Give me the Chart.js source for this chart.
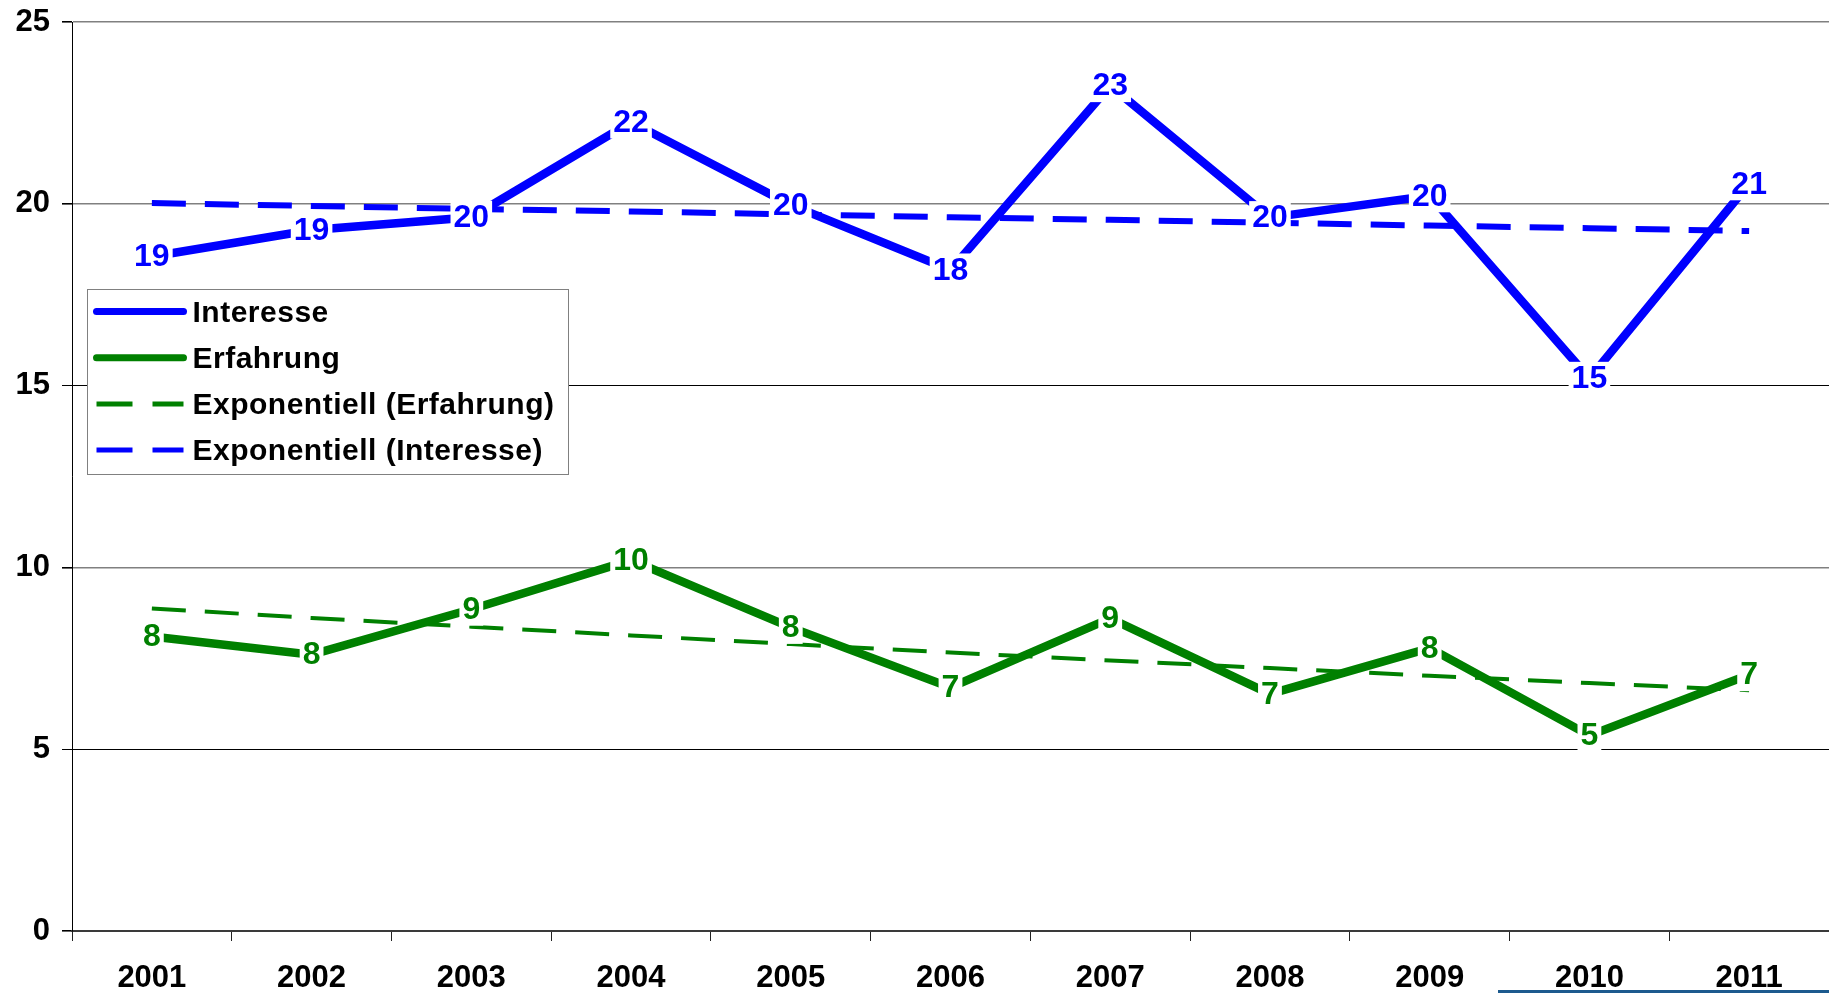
<!DOCTYPE html>
<html>
<head>
<meta charset="utf-8">
<script src="https://cdn.jsdelivr.net/npm/chart.js@4.4.1/dist/chart.umd.min.js"></script>
<style>
  html, body { margin: 0; padding: 0; background: #ffffff; }
  #wrap { position: relative; width: 1829px; height: 993px; overflow: hidden; }
  #deco { position: absolute; left: 1498px; top: 990px; width: 331px; height: 3px; background: #1c5a8e; }
</style>
</head>
<body>
<div id="wrap">
  <canvas id="c" width="1829" height="993"></canvas>
  <div id="deco"></div>
</div>
<script>
// ---- data ----
const years = ['2001','2002','2003','2004','2005','2006','2007','2008','2009','2010','2011'];
const interesse = [18.55, 19.28, 19.63, 22.25, 19.97, 18.18, 23.25, 19.62, 20.22, 15.2, 20.55];
const erfahrung = [8.1, 7.6, 8.85, 10.2, 8.35, 6.7, 8.6, 6.52, 7.78, 5.38, 7.05];
const trendErfahrung = [8.87, 8.61, 8.37, 8.13, 7.89, 7.66, 7.44, 7.23, 7.02, 6.82, 6.62];
const trendInteresse = [20.02, 19.94, 19.86, 19.79, 19.71, 19.63, 19.56, 19.48, 19.40, 19.33, 19.25];
const yTicks = [0, 5, 10, 15, 20, 25];

const FONT = "'Liberation Sans', Arial, sans-serif";
const BLUE = '#0000ff';
const GREEN = '#008000';

const dataLabels = {
  id: 'dataLabels',
  afterDatasetsDraw(chart) {
    const ctx = chart.ctx;
    ctx.save();
    ctx.font = 'bold 32px ' + FONT;
    ctx.textAlign = 'center';
    ctx.textBaseline = 'middle';
    chart.data.datasets.forEach((ds, i) => {
      if (!ds.showValues) return;
      const meta = chart.getDatasetMeta(i);
      meta.data.forEach((pt, j) => {
        const txt = String(Math.round(ds.data[j]));
        const w = ctx.measureText(txt).width + 6;
        const h = 33;
        ctx.fillStyle = '#ffffff';
        ctx.fillRect(pt.x - w / 2, pt.y - h / 2, w, h);
        ctx.fillStyle = ds.borderColor;
        ctx.fillText(txt, pt.x, pt.y + 1);
      });
    });
    ctx.restore();
  }
};

const boxLegend = {
  id: 'boxLegend',
  afterDraw(chart) {
    const ctx = chart.ctx;
    const a = chart.chartArea;
    const x0 = a.left + 15.5, y0 = a.top + 267.5, w = 481, h = 185;
    ctx.save();
    ctx.fillStyle = '#ffffff';
    ctx.fillRect(x0, y0, w, h);
    ctx.strokeStyle = '#808080';
    ctx.lineWidth = 1;
    ctx.strokeRect(x0, y0, w, h);
    ctx.font = 'bold 30px ' + FONT;
    if ('letterSpacing' in ctx) ctx.letterSpacing = '0.5px';
    ctx.textBaseline = 'middle';
    ctx.textAlign = 'left';
    chart.data.datasets.forEach((ds, i) => {
      const cy = y0 + 22 + i * 46.2;
      ctx.strokeStyle = ds.borderColor;
      ctx.lineWidth = ds.borderDash ? 5 : 7;
      ctx.lineCap = ds.borderDash ? 'butt' : 'round';
      ctx.setLineDash(ds.borderDash ? [36, 20] : []);
      ctx.beginPath();
      ctx.moveTo(x0 + 9, cy);
      ctx.lineTo(x0 + 96, cy);
      ctx.stroke();
      ctx.setLineDash([]);
      ctx.fillStyle = '#000000';
      ctx.fillText(ds.label, x0 + 105, cy + 2);
    });
    ctx.restore();
  }
};

new Chart(document.getElementById('c'), {
  type: 'line',
  data: {
    labels: years,
    datasets: [
      { label: 'Interesse', data: interesse, borderColor: BLUE, borderWidth: 8.5, showValues: true, order: 1 },
      { label: 'Erfahrung', data: erfahrung, borderColor: GREEN, borderWidth: 8.5, showValues: true, order: 2 },
      { label: 'Exponentiell (Erfahrung)', data: trendErfahrung, borderColor: GREEN, borderWidth: 4, borderDash: [34, 19], order: 3 },
      { label: 'Exponentiell (Interesse)', data: trendInteresse, borderColor: BLUE, borderWidth: 6, borderDash: [34, 19], order: 4 }
    ]
  },
  options: {
    responsive: false,
    animation: false,
    devicePixelRatio: 1,
    layout: { padding: { top: 22, right: 0, bottom: 0, left: 0 } },
    elements: {
      point: { radius: 0, hoverRadius: 0 },
      line: { tension: 0, fill: false, borderCapStyle: 'butt', borderJoinStyle: 'miter' }
    },
    plugins: { legend: { display: false }, tooltip: { enabled: false } },
    scales: {
      x: {
        type: 'category',
        offset: true,
        afterFit(s) { s.height = 62; s.paddingLeft = 0; s.paddingRight = 0; },
        border: { display: true, color: '#3a3a3a', width: 2 },
        grid: { offset: true, drawOnChartArea: false, drawTicks: true, tickLength: 10, color: '#222', tickColor: '#222', lineWidth: 1 },
        ticks: { color: '#000', font: { family: FONT, size: 31, weight: 'bold' }, padding: 19, maxRotation: 0, autoSkip: false }
      },
      y: {
        min: 0, max: 25,
        afterFit(s) { s.width = 72; s.paddingTop = 0; s.paddingBottom = 0; },
        afterBuildTicks(s) { s.ticks = yTicks.map(v => ({ value: v })); },
        border: { display: true, color: '#000', width: 1 },
        grid: {
          drawTicks: true, tickLength: 10, tickColor: '#000',
          color(c) {
            const v = c.tick ? c.tick.value : null;
            if (v === 0) return 'rgba(0,0,0,0)';
            if (v === 5 || v === 15) return '#000000';
            return '#808080';
          },
          lineWidth(c) {
            const v = c.tick ? c.tick.value : null;
            return (v === 5 || v === 15) ? 1 : 1.6;
          }
        },
        ticks: { color: '#000', font: { family: FONT, size: 31, weight: 'bold' }, padding: 12 }
      }
    }
  },
  plugins: [dataLabels, boxLegend]
});
</script>
</body>
</html>
